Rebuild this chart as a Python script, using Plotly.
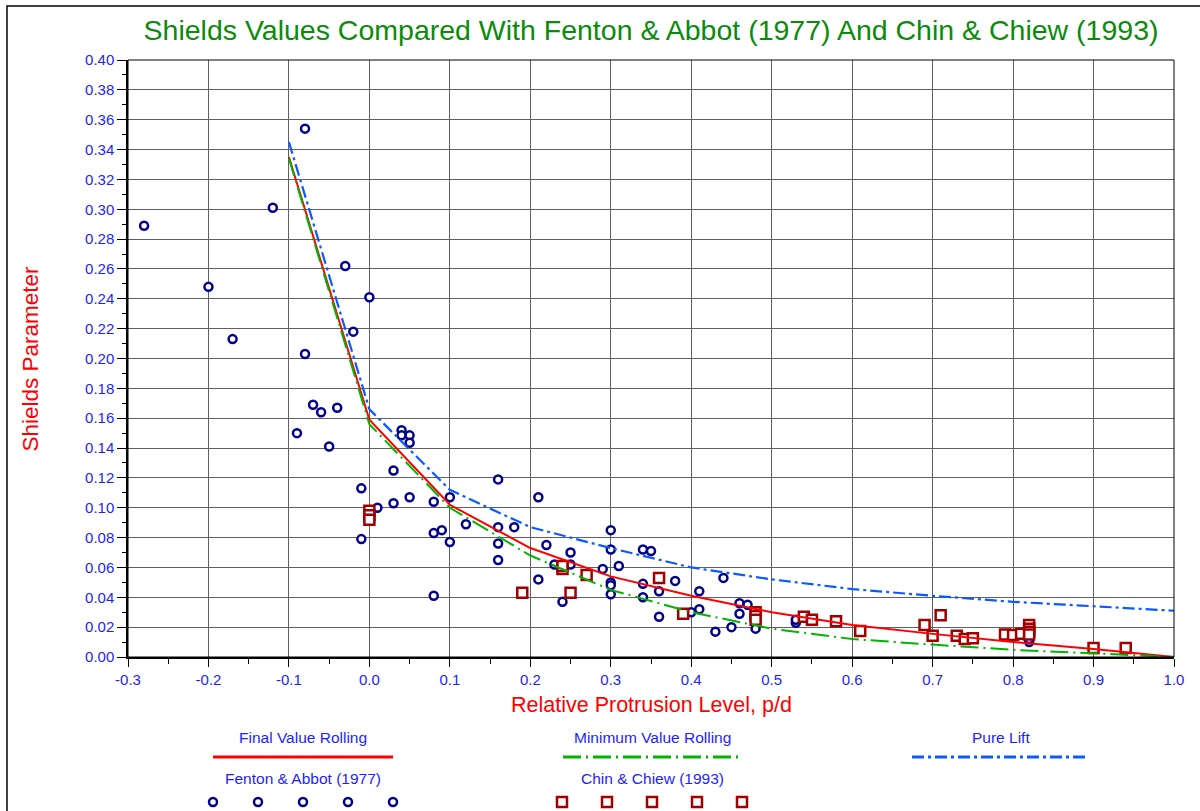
import plotly.graph_objects as go

# Fenton & Abbot (1977) measurements
fenton_x = [-0.28, -0.20, -0.17, -0.12, -0.08, -0.08, -0.09, -0.07, -0.06, -0.05,
            -0.04, -0.03, -0.02, 0.00, -0.01, -0.01, 0.01, 0.03, 0.03, 0.04,
            0.04, 0.05, 0.05, 0.05, 0.08, 0.08, 0.08, 0.09, 0.10, 0.10,
            0.12, 0.16, 0.16, 0.16, 0.16, 0.18, 0.21, 0.21, 0.22, 0.23,
            0.24, 0.24, 0.24, 0.25, 0.25, 0.25, 0.29, 0.30, 0.30, 0.30,
            0.30, 0.30, 0.31, 0.34, 0.35, 0.34, 0.34, 0.36, 0.36, 0.38,
            0.40, 0.41, 0.41, 0.43, 0.44, 0.45, 0.46, 0.46, 0.47, 0.48,
            0.53, 0.53, 0.82, 0.82]
fenton_y = [0.289, 0.248, 0.213, 0.301, 0.354, 0.203, 0.150, 0.169, 0.164, 0.141,
            0.167, 0.262, 0.218, 0.241, 0.113, 0.079, 0.100, 0.125, 0.103, 0.152,
            0.1485, 0.1485, 0.1436, 0.107, 0.104, 0.083, 0.041, 0.085, 0.107, 0.077,
            0.089, 0.119, 0.087, 0.076, 0.065, 0.087, 0.107, 0.052, 0.075, 0.062,
            0.062, 0.060, 0.037, 0.070, 0.062, 0.043, 0.059, 0.085, 0.072, 0.050,
            0.048, 0.042, 0.061, 0.072, 0.071, 0.049, 0.040, 0.044, 0.027, 0.051,
            0.030, 0.044, 0.032, 0.017, 0.053, 0.020, 0.036, 0.029, 0.035, 0.019,
            0.023, 0.025, 0.010, 0.012]

# Chin & Chiew (1993) measurements
chin_x = [0.00, 0.00, 0.00, 0.19, 0.24, 0.24, 0.25, 0.27, 0.36, 0.39,
          0.48, 0.48, 0.48, 0.54, 0.55, 0.58, 0.61, 0.69, 0.70, 0.71,
          0.73, 0.74, 0.75, 0.79, 0.80, 0.81, 0.82, 0.82, 0.82, 0.82,
          0.90, 0.94]
chin_y = [0.098, 0.095, 0.092, 0.043, 0.059, 0.061, 0.043, 0.055, 0.053, 0.029,
          0.030, 0.0275, 0.025, 0.027, 0.025, 0.024, 0.0175, 0.0215, 0.0143, 0.028,
          0.0143, 0.012, 0.0125, 0.015, 0.0147, 0.0156, 0.0215, 0.019, 0.017, 0.015,
          0.006, 0.006]

# predicted curves
curve_x = [-0.1, 0.0, 0.1, 0.2, 0.3, 0.4, 0.5, 0.6, 0.7, 0.8, 0.9, 1.0]
final_rolling = [0.335, 0.159, 0.102, 0.073, 0.054, 0.041, 0.030, 0.0215, 0.0155, 0.010, 0.0054, 0.0]
min_rolling = [0.334, 0.156, 0.100, 0.068, 0.045, 0.030, 0.019, 0.012, 0.0083, 0.0048, 0.0025, 0.0]
pure_lift = [0.345, 0.166, 0.112, 0.087, 0.073, 0.060, 0.052, 0.0455, 0.041, 0.037, 0.034, 0.031]

x_ticks = [-0.3, -0.2, -0.1, 0.0, 0.1, 0.2, 0.3, 0.4, 0.5, 0.6, 0.7, 0.8, 0.9, 1.0]
x_tick_labels = ['-0.3', '-0.2', '-0.1', '0.0', '0.1', '0.2', '0.3', '0.4', '0.5',
                 '0.6', '0.7', '0.8', '0.9', '1.0']

FONT = 'Liberation Sans, Arial, sans-serif'
RED = '#FF0000'
GREEN = '#00B400'
BLUE = '#0A5AFF'
TXT_BLUE = '#1E1EFF'
NAVY = '#00008C'
DARKRED = '#A00000'

W, H = 1200, 811
L, R, T = 128, 26, 60
PLOT_BOTTOM = 657
ydom0 = (H - PLOT_BOTTOM) / (H - T)

fenton_marker = dict(symbol='circle', size=8, color='white', line=dict(color=NAVY, width=2.5))
chin_marker = dict(symbol='square', size=10, color='white', line=dict(color=DARKRED, width=2.5))
final_line = dict(color=RED, width=2)
min_line = dict(color=GREEN, width=2, dash='18px,5px,2px,5px')
lift_line = dict(color=BLUE, width=2.2, dash='12px,4px,3px,4px')

fig = go.Figure()
fig.add_trace(go.Scatter(x=fenton_x, y=fenton_y, mode='markers', marker=fenton_marker,
                         name='Fenton & Abbot (1977)'))
fig.add_trace(go.Scatter(x=chin_x, y=chin_y, mode='markers', marker=chin_marker,
                         name='Chin & Chiew (1993)'))
fig.add_trace(go.Scatter(x=curve_x, y=final_rolling, mode='lines', line=final_line,
                         name='Final Value Rolling'))
fig.add_trace(go.Scatter(x=curve_x, y=min_rolling, mode='lines', line=min_line,
                         name='Minimum Value Rolling'))
fig.add_trace(go.Scatter(x=curve_x, y=pure_lift, mode='lines', line=lift_line,
                         name='Pure Lift'))

# hand-built legend on a hidden pixel-scaled axis below the plot
leg = dict(xaxis='x2', yaxis='y2', showlegend=False, hoverinfo='skip', cliponaxis=False)
fig.add_trace(go.Scatter(x=[213, 393], y=[757, 757], mode='lines', line=dict(final_line, width=3), **leg))
fig.add_trace(go.Scatter(x=[563, 740], y=[757, 757], mode='lines', line=dict(min_line, width=3), **leg))
fig.add_trace(go.Scatter(x=[912, 1088], y=[757, 757], mode='lines', line=dict(lift_line, width=3), **leg))
fig.add_trace(go.Scatter(x=[213, 258, 303, 348, 393], y=[802] * 5, mode='markers',
                         marker=fenton_marker, **leg))
fig.add_trace(go.Scatter(x=[562, 607, 652, 697, 742], y=[802] * 5, mode='markers',
                         marker=chin_marker, **leg))

legend_labels = [('Final Value Rolling', 303, 737), ('Minimum Value Rolling', 652, 737),
                 ('Pure Lift', 1001, 737), ('Fenton & Abbot (1977)', 303, 778),
                 ('Chin & Chiew (1993)', 652, 778)]
annotations = [dict(text=t, x=x, y=y, xref='x2', yref='y2', showarrow=False,
                    xanchor='center', yanchor='middle',
                    font=dict(family=FONT, size=15.5, color=TXT_BLUE))
               for t, x, y in legend_labels]
annotations.append(dict(text='Relative Protrusion Level, p/d', x=0.5, xref='paper',
                        y=(H - 705) / (H - T), yref='paper', showarrow=False,
                        xanchor='center', yanchor='middle',
                        font=dict(family=FONT, size=21.5, color=RED)))
annotations.append(dict(text='Shields Parameter', x=(30 - L) / (W - L - R), xref='paper',
                        y=(ydom0 + 1) / 2, yref='paper', textangle=-90, showarrow=False,
                        xanchor='center', yanchor='middle',
                        font=dict(family=FONT, size=22.5, color=RED)))

fig.update_layout(
    width=W, height=H,
    margin=dict(l=L, r=R, t=T, b=0, autoexpand=False),
    paper_bgcolor='white', plot_bgcolor='white',
    showlegend=False,
    font=dict(family=FONT),
    title=dict(text='Shields Values Compared With Fenton & Abbot (1977) And Chin & Chiew (1993)',
               x=0.5, xref='paper', xanchor='center', y=1 - 30 / H, yref='container',
               yanchor='middle', font=dict(family=FONT, size=28.5, color='#0A8C0A')),
    xaxis=dict(range=[-0.3, 1.0], tickvals=x_ticks, ticktext=x_tick_labels, automargin=False,
               showgrid=True, gridcolor='#606060', gridwidth=1, zeroline=False,
               showline=True, linecolor='black', linewidth=2,
               ticks='outside', ticklen=8, tickcolor='black',
               minor=dict(dtick=0.05, ticks='outside', ticklen=5, tickcolor='black', showgrid=False),
               tickfont=dict(family=FONT, size=15, color=TXT_BLUE)),
    yaxis=dict(domain=[ydom0, 1], range=[0, 0.40], dtick=0.02, tickformat='.2f', automargin=False,
               showgrid=True, gridcolor='#606060', gridwidth=1, zeroline=False,
               showline=True, linecolor='black', linewidth=1.5,
               ticks='outside', ticklen=9, tickcolor='black',
               minor=dict(dtick=0.01, ticks='outside', ticklen=4, tickcolor='black', showgrid=False),
               tickfont=dict(family=FONT, size=15, color=TXT_BLUE)),
    xaxis2=dict(range=[L, W - R], visible=False, anchor='y2', fixedrange=True, automargin=False),
    yaxis2=dict(domain=[0, ydom0], range=[H, PLOT_BOTTOM], visible=False, anchor='x2',
                fixedrange=True, automargin=False),
    annotations=annotations,
    shapes=[
        dict(type='rect', xref='paper', yref='paper', x0=0, x1=1, y0=ydom0, y1=1,
             line=dict(color='black', width=1), layer='above'),
        dict(type='rect', xref='paper', yref='paper',
             x0=(7 - L) / (W - L - R), x1=1.2, y0=-0.2, y1=1 + (T - 6) / (H - T),
             line=dict(color='black', width=1.5), layer='above'),
    ],
)

fig.write_html('out.html', config={'displayModeBar': False},
               post_script="document.body.style.margin='0px';")
